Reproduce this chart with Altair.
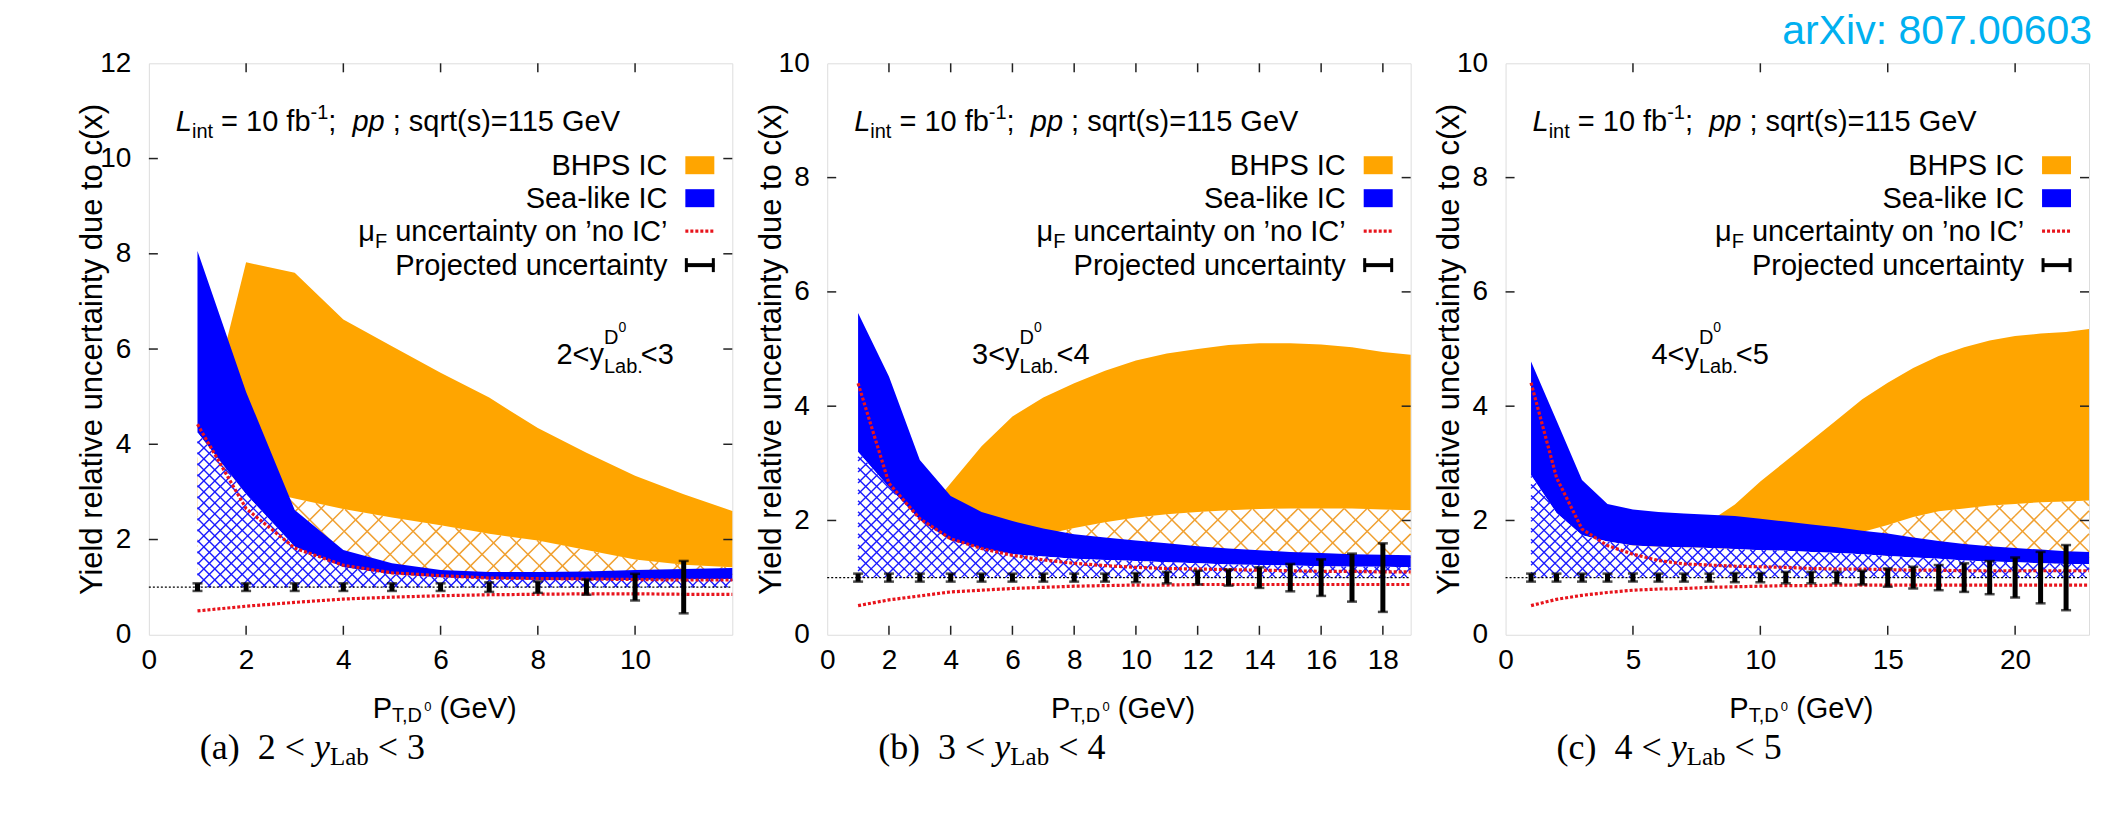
import altair as alt
import numpy as np
import pandas as pd

FONT = "Liberation Sans"
SERIF = "Liberation Serif"
ORANGE = "#ffa500"
ORANGE_H = "#f0a030"
BLUE = "#0000ff"
BLUE_H = "#1a1aff"
RED = "#e8141c"
W, H = 584, 572
YTITLE = "Yield relative uncertainty due to c(x)"

# ---------------- panel (a): 2 < y < 3 ----------------
a_x = [1, 2, 3, 4, 5, 6, 7, 8, 9, 10, 11, 12]
a_blue_hi = [8.06, 5.1, 2.62, 1.78, 1.5, 1.36, 1.32, 1.32, 1.33, 1.36, 1.38, 1.4]
a_blue_lo = [4.25, 2.95, 1.85, 1.42, 1.27, 1.2, 1.17, 1.15, 1.15, 1.15, 1.16, 1.17]
a_orange_hi = [3.7, 7.82, 7.6, 6.62, 6.06, 5.5, 4.98, 4.34, 3.82, 3.34, 2.95, 2.6]
a_orange_lo = [2.5, 3.1, 2.86, 2.64, 2.46, 2.3, 2.12, 1.98, 1.78, 1.58, 1.47, 1.42]
a_red_hi = [4.42, 2.65, 1.82, 1.46, 1.3, 1.24, 1.19, 1.18, 1.17, 1.16, 1.15, 1.15]
a_red_lo = [0.5, 0.6, 0.68, 0.75, 0.79, 0.82, 0.84, 0.85, 0.86, 0.86, 0.85, 0.85]
a_bar_x = [1, 2, 3, 4, 5, 6, 7, 8, 9, 10, 11]
a_bar_err = [0.08, 0.08, 0.08, 0.08, 0.08, 0.08, 0.1, 0.12, 0.16, 0.28, 0.55]

# ---------------- panel (b): 3 < y < 4 ----------------
b_x = [1, 2, 3, 4, 5, 6, 7, 8, 9, 10, 11, 12, 13, 14, 15, 16, 17, 18, 18.9]
b_blue_hi = [5.63, 4.52, 3.06, 2.43, 2.15, 1.99, 1.86, 1.76, 1.70, 1.65, 1.60, 1.55, 1.51, 1.48, 1.45, 1.43, 1.41, 1.40, 1.39]
b_blue_lo = [3.2, 2.58, 2.01, 1.65, 1.51, 1.41, 1.37, 1.33, 1.31, 1.29, 1.27, 1.25, 1.23, 1.22, 1.21, 1.2, 1.19, 1.19, 1.18]
b_orange_hi = [1.5, 1.8, 2.0, 2.65, 3.3, 3.82, 4.15, 4.4, 4.62, 4.8, 4.92, 5.0, 5.07, 5.1, 5.1, 5.08, 5.03, 4.95, 4.9]
b_orange_lo = [1.3, 1.4, 1.45, 1.5, 1.55, 1.62, 1.75, 1.87, 1.97, 2.05, 2.11, 2.15, 2.18, 2.2, 2.21, 2.21, 2.21, 2.19, 2.18]
b_red_hi = [4.4, 2.65, 2.03, 1.68, 1.51, 1.39, 1.31, 1.25, 1.21, 1.18, 1.16, 1.15, 1.14, 1.13, 1.12, 1.11, 1.11, 1.10, 1.10]
b_red_lo = [0.51, 0.61, 0.68, 0.75, 0.78, 0.81, 0.83, 0.85, 0.86, 0.87, 0.87, 0.88, 0.88, 0.88, 0.88, 0.88, 0.88, 0.88, 0.88]
b_bar_x = [1, 2, 3, 4, 5, 6, 7, 8, 9, 10, 11, 12, 13, 14, 15, 16, 17, 18]
b_bar_err = [0.07, 0.07, 0.07, 0.07, 0.07, 0.07, 0.07, 0.07, 0.07, 0.08, 0.1, 0.12, 0.14, 0.18, 0.24, 0.32, 0.42, 0.6]

# ---------------- panel (c): 4 < y < 5 ----------------
c_x = [1, 2, 3, 4, 5, 6, 7, 8, 9, 10, 11, 12, 13, 14, 15, 16, 17, 18, 19, 20, 21, 22, 22.9]
c_blue_hi = [4.78, 3.75, 2.71, 2.29, 2.19, 2.15, 2.12, 2.10, 2.08, 2.03, 1.98, 1.93, 1.88, 1.82, 1.77, 1.70, 1.64, 1.59, 1.55, 1.52, 1.49, 1.46, 1.45]
c_blue_lo = [2.79, 2.13, 1.74, 1.63, 1.56, 1.54, 1.53, 1.52, 1.5, 1.48, 1.47, 1.45, 1.43, 1.41, 1.38, 1.35, 1.33, 1.3, 1.28, 1.27, 1.25, 1.24, 1.24]
c_orange_hi = [1.3, 1.4, 1.5, 1.55, 1.6, 1.7, 1.8, 1.98, 2.28, 2.68, 3.04, 3.4, 3.76, 4.12, 4.41, 4.67, 4.88, 5.03, 5.15, 5.23, 5.27, 5.3, 5.35]
c_orange_lo = [1.1, 1.15, 1.2, 1.25, 1.3, 1.35, 1.4, 1.45, 1.5, 1.55, 1.6, 1.66, 1.72, 1.8, 1.92, 2.06, 2.16, 2.21, 2.26, 2.29, 2.32, 2.33, 2.35]
c_red_hi = [4.41, 2.75, 1.85, 1.56, 1.41, 1.30, 1.24, 1.22, 1.2, 1.19, 1.18, 1.16, 1.15, 1.15, 1.14, 1.13, 1.13, 1.12, 1.12, 1.12, 1.12, 1.12, 1.12]
c_red_lo = [0.51, 0.62, 0.69, 0.74, 0.78, 0.8, 0.81, 0.83, 0.84, 0.85, 0.86, 0.86, 0.87, 0.87, 0.87, 0.87, 0.87, 0.87, 0.87, 0.87, 0.87, 0.87, 0.87]
c_bar_x = list(range(1, 23))
c_bar_err = [0.07, 0.07, 0.07, 0.07, 0.07, 0.07, 0.07, 0.07, 0.08, 0.08, 0.1, 0.1, 0.1, 0.12, 0.16, 0.19, 0.22, 0.25, 0.29, 0.35, 0.45, 0.57]

# text-width tables (per 1000 em), Arial/Helvetica and Times metrics
AW = {' ': 278, '(': 333, ')': 333, ',': 278, '-': 333, '.': 278, ';': 278, '<': 584, '=': 584,
      'B': 667, 'C': 722, 'D': 722, 'F': 611, 'G': 778, 'I': 278, 'L': 556, 'P': 667, 'S': 667,
      'T': 611, 'V': 667, 'X': 667, 'a': 556, 'b': 556, 'c': 500, 'd': 556, 'e': 556, 'f': 278,
      'i': 222, 'j': 222, 'k': 500, 'l': 222, 'n': 556, 'o': 556, 'p': 556, 'q': 556, 'r': 333,
      's': 500, 't': 278, 'u': 556, 'v': 500, 'x': 500, 'y': 500, '\u2019': 222, '\u03bc': 576}
TW = {' ': 250, '(': 333, ')': 333, '<': 564, 'L': 611, 'a': 444, 'b': 500, 'c': 444, 'y': 444}


def tw(s, size, table=AW):
    return sum(table.get(ch, 556 if table is AW else 500) for ch in s) * size / 1000.0


def txt(s, px, py, size=28, align="left", font=FONT, style="normal", color="black"):
    # leading/trailing blanks are not kept by the renderer: turn them into offsets
    sp = (250 if font == SERIF else 278) * size / 1000.0
    lead = len(s) - len(s.lstrip(" "))
    trail = len(s) - len(s.rstrip(" "))
    if align == "left":
        px += lead * sp
    elif align == "right":
        px -= trail * sp
    s = s.strip(" ")
    return alt.Chart(pd.DataFrame({"t": [s]})).mark_text(
        align=align, baseline="alphabetic", font=font, fontSize=size, fontStyle=style, color=color
    ).encode(text="t:N", x=alt.value(px), y=alt.value(py))


def hatch(xs, tops, base, xmax, ymax, d):
    sx, sy = W / xmax, H / ymax
    X = [v * sx for v in xs]
    F = [v * sy for v in tops]
    B = base * sy
    reach = X[-1] + max(F) + d
    rows = []
    for s in (1, -1):
        for k in range(int(np.floor(-reach / d)), int(np.ceil(reach / d)) + 1):
            c = k * d
            for i in range(len(X) - 1):
                xa, xb, fa, fb = X[i], X[i + 1], F[i], F[i + 1]
                m = (fb - fa) / (xb - xa)
                lo, hi = xa, xb
                if s == 1:
                    lo = max(lo, B - c)
                else:
                    hi = min(hi, c - B)
                kk = s - m
                r = fa - m * xa - c
                if abs(kk) < 1e-12:
                    if r < 0:
                        continue
                elif kk > 0:
                    hi = min(hi, r / kk)
                else:
                    lo = max(lo, r / kk)
                if hi - lo > 0.05:
                    rows.append({"x": lo / sx, "y": (c + s * lo) / sy,
                                 "x2": hi / sx, "y2": (c + s * hi) / sy})
    return pd.DataFrame(rows)


def panel(xs, bhi, blo, ohi, olo, rhi, rlo, bx, be, xmax, ymax, xticks, yticks,
          ann, ann_x, letter, first=False, last=False):
    xsc = alt.Scale(domain=[0, xmax], nice=False, zero=False)
    ysc = alt.Scale(domain=[0, ymax], nice=False, zero=False)
    xaxis = alt.Axis(values=xticks, title=None, labelFont=FONT, labelFontSize=28, labelColor="black",
                     labelPadding=12, ticks=False, domain=False, grid=False, labelFlush=False,
                     labelOverlap=False, format="d")
    yaxis = alt.Axis(values=yticks, title=YTITLE, titleFont=FONT, titleFontSize=31,
                     titleFontWeight="normal", titleColor="black", titleX=-56, titleY=H / 2,
                     titleAngle=270, titleAlign="center", titleBaseline="middle",
                     labelFont=FONT, labelFontSize=28, labelColor="black", labelPadding=18,
                     ticks=False, domain=False, grid=False, labelFlush=False, format="d")

    def X(f):
        return alt.X(f + ":Q", scale=xsc, axis=xaxis)

    def Y(f):
        return alt.Y(f + ":Q", scale=ysc, axis=yaxis)

    df = pd.DataFrame({"x": xs, "bhi": bhi, "blo": blo, "ohi": ohi, "olo": olo,
                       "rhi": rhi, "rlo": rlo, "one": [1.0] * len(xs)})
    bars = pd.DataFrame({"bx": bx, "lo": [1 - e for e in be], "hi": [1 + e for e in be]})

    L = []
    L.append(alt.Chart(df).mark_area(color=ORANGE, opacity=1).encode(x=X("x"), y=Y("ohi"), y2="olo:Q"))
    L.append(alt.Chart(hatch(xs, olo, 1.0, xmax, ymax, 23)).mark_rule(color=ORANGE_H, strokeWidth=1.5)
             .encode(x=X("x"), y=Y("y"), x2="x2:Q", y2="y2:Q"))
    L.append(alt.Chart(df).mark_area(color=BLUE, opacity=1).encode(x=X("x"), y=Y("bhi"), y2="blo:Q"))
    L.append(alt.Chart(df).mark_area(color="white", opacity=1).encode(x=X("x"), y=Y("blo"), y2="one:Q"))
    L.append(alt.Chart(hatch(xs, blo, 1.0, xmax, ymax, 11)).mark_rule(color=BLUE_H, strokeWidth=1.4)
             .encode(x=X("x"), y=Y("y"), x2="x2:Q", y2="y2:Q"))
    L.append(alt.Chart(df).mark_line(color=RED, strokeWidth=3.2, strokeDash=[3, 2])
             .encode(x=X("x"), y=Y("rhi")))
    L.append(alt.Chart(df).mark_line(color=RED, strokeWidth=3.2, strokeDash=[3, 2])
             .encode(x=X("x"), y=Y("rlo")))
    L.append(alt.Chart(pd.DataFrame({"one": [1.0]})).mark_rule(color="black", strokeWidth=1.2, strokeDash=[2, 2])
             .encode(y=Y("one"), x=alt.value(0), x2=alt.value(W)))
    L.append(alt.Chart(bars).mark_rule(color="black", strokeWidth=5).encode(x=X("bx"), y=Y("lo"), y2="hi:Q"))
    L.append(alt.Chart(bars).mark_tick(color="black", orient="horizontal", size=10, thickness=2.5)
             .encode(x=X("bx"), y=Y("lo")))
    L.append(alt.Chart(bars).mark_tick(color="black", orient="horizontal", size=10, thickness=2.5)
             .encode(x=X("bx"), y=Y("hi")))

    # inward ticks on all four sides
    xt = pd.DataFrame({"t": [v for v in xticks if 0 < v < xmax]})
    yt = pd.DataFrame({"t": [v for v in yticks if 0 < v < ymax]})
    tk = dict(color="#222222", strokeWidth=1.5)
    L.append(alt.Chart(xt).mark_rule(**tk).encode(x=X("t"), y=alt.value(H), y2=alt.value(H - 9)))
    L.append(alt.Chart(xt).mark_rule(**tk).encode(x=X("t"), y=alt.value(0), y2=alt.value(9)))
    L.append(alt.Chart(yt).mark_rule(**tk).encode(y=Y("t"), x=alt.value(0), x2=alt.value(9)))
    L.append(alt.Chart(yt).mark_rule(**tk).encode(y=Y("t"), x=alt.value(W), x2=alt.value(W - 9)))

    # header text: L_int = 10 fb^-1;  pp ; sqrt(s)=115 GeV
    px, bl = 27, 68
    L.append(txt("L", px, bl, 29, style="italic")); px += tw("L", 29)
    L.append(txt("int", px, bl + 7, 20)); px += tw("int", 20)
    L.append(txt(" = 10 fb", px, bl, 29)); px += tw(" = 10 fb", 29)
    L.append(txt("-1", px, bl - 12, 20)); px += tw("-1", 20)
    L.append(txt(";", px, bl, 29)); px += tw(";  ", 29)
    L.append(txt("pp", px, bl, 29, style="italic")); px += tw("pp", 29)
    L.append(txt(" ; sqrt(s)=115 GeV", px, bl, 29))

    # legend
    TX = W - 65
    rows = [102, 135, 168, 202]
    one = pd.DataFrame({"a": [0]})
    L.append(txt("BHPS IC", TX, rows[0] + 10, 29, align="right"))
    L.append(alt.Chart(one).mark_rect(color=ORANGE).encode(
        x=alt.value(W - 47), x2=alt.value(W - 18), y=alt.value(rows[0] - 9), y2=alt.value(rows[0] + 9)))
    L.append(txt("Sea-like IC", TX, rows[1] + 10, 29, align="right"))
    L.append(alt.Chart(one).mark_rect(color=BLUE).encode(
        x=alt.value(W - 47), x2=alt.value(W - 18), y=alt.value(rows[1] - 9), y2=alt.value(rows[1] + 9)))
    main = " uncertainty on \u2019no IC\u2019"
    L.append(txt(main, TX, rows[2] + 10, 29, align="right"))
    fx = TX - tw(main, 29)
    L.append(txt("F", fx, rows[2] + 17, 20, align="right"))
    L.append(txt("\u03bc", fx - tw("F", 20), rows[2] + 10, 29, align="right"))
    L.append(alt.Chart(one).mark_rule(color=RED, strokeWidth=3.2, strokeDash=[3, 2]).encode(
        x=alt.value(W - 47), x2=alt.value(W - 18), y=alt.value(rows[2])))
    L.append(txt("Projected uncertainty", TX, rows[3] + 10, 29, align="right"))
    L.append(alt.Chart(one).mark_rule(color="black", strokeWidth=4).encode(
        x=alt.value(W - 47), x2=alt.value(W - 18), y=alt.value(rows[3])))
    for cx in (W - 46, W - 19):
        L.append(alt.Chart(one).mark_rule(color="black", strokeWidth=3).encode(
            x=alt.value(cx), y=alt.value(rows[3] - 7), y2=alt.value(rows[3] + 7)))

    # rapidity annotation  lo<y^{D0}_{Lab.}<hi
    lo, hi = ann
    b = 301
    x0 = ann_x
    s1 = f"{lo}<y"
    L.append(txt(s1, x0, b, 29)); xa = x0 + tw(s1, 29)
    L.append(txt("D", xa, b - 20, 20))
    L.append(txt("0", xa + tw("D", 20), b - 32, 14))
    L.append(txt("Lab.", xa, b + 9, 20))
    L.append(txt(f"<{hi}", xa + tw("Lab.", 20) - 2, b, 29))

    # x-axis title  P_{T,D^0} (GeV)
    tx0 = W / 2 - 68
    L.append(txt("P", tx0, H + 83, 29)); tx0 += tw("P", 29)
    L.append(txt("T,D", tx0, H + 87, 20)); tx0 += tw("T,D", 20)
    L.append(txt("0", tx0, H + 76, 13)); tx0 += tw("0", 13)
    L.append(txt(" (GeV)", tx0, H + 83, 29))

    # caption  (a)  2 < y_Lab < 3
    cs = 36
    cx = 51
    cb = H + 124
    L.append(txt(f"({letter})", cx, cb, cs, font=SERIF)); cx += tw(f"({letter})", cs, TW)
    s2 = f"  {lo} < "
    L.append(txt(s2, cx, cb, cs, font=SERIF)); cx += tw(s2, cs, TW)
    L.append(txt("y", cx, cb, cs, font=SERIF, style="italic")); cx += tw("y", cs, TW)
    L.append(txt("Lab", cx, cb + 6, 25, font=SERIF)); cx += tw("Lab", 25, TW)
    L.append(txt(f" < {hi}", cx, cb, cs, font=SERIF))

    if first:
        # invisible anchor fixing the page offset of the first plot area
        L.append(alt.Chart(one).mark_rule(color="white", strokeWidth=1).encode(
            x=alt.value(-139.5), y=alt.value(-53.5), y2=alt.value(-50)))
    if last:
        L.append(txt("arXiv: 807.00603", W + 3, -19, 41, align="right", color="#00b0f0"))

    return alt.layer(*L).properties(width=W, height=H)


pa = panel(a_x, a_blue_hi, a_blue_lo, a_orange_hi, a_orange_lo, a_red_hi, a_red_lo,
           a_bar_x, a_bar_err, 12, 12, [0, 2, 4, 6, 8, 10], [0, 2, 4, 6, 8, 10, 12],
           (2, 3), 408, "a", first=True)
pb = panel(b_x, b_blue_hi, b_blue_lo, b_orange_hi, b_orange_lo, b_red_hi, b_red_lo,
           b_bar_x, b_bar_err, 18.9, 10, [0, 2, 4, 6, 8, 10, 12, 14, 16, 18], [0, 2, 4, 6, 8, 10],
           (3, 4), 145, "b")
pc = panel(c_x, c_blue_hi, c_blue_lo, c_orange_hi, c_orange_lo, c_red_hi, c_red_lo,
           c_bar_x, c_bar_err, 22.9, 10, [0, 5, 10, 15, 20], [0, 2, 4, 6, 8, 10],
           (4, 5), 146, "c", last=True)

chart = alt.hconcat(pa, pb, pc, spacing=95, bounds="flush", padding=0).configure_view(
    stroke="#222222", strokeWidth=1.5
).configure(background="white")

chart.save("out.html", embed_options={"renderer": "svg", "actions": False})
